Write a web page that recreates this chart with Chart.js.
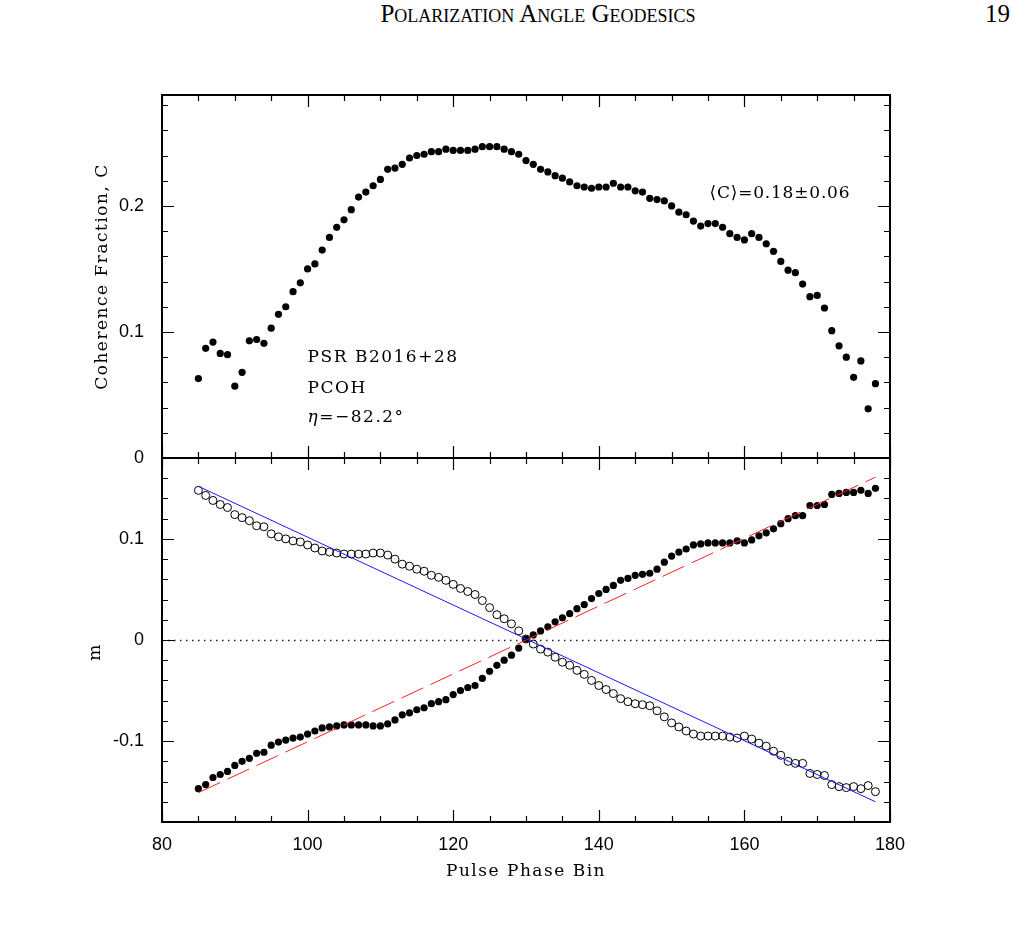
<!DOCTYPE html>
<html>
<head>
<meta charset="utf-8">
<title>Polarization Angle Geodesics</title>
<script src="https://cdn.jsdelivr.net/npm/chart.js@4.4.1/dist/chart.umd.min.js"></script>
<style>
  html, body { margin: 0; padding: 0; background: #fff; }
  #page { position: relative; width: 1015px; height: 936px; overflow: hidden; background: #fff; }
  .runhead { position: absolute; top: 1px; font-family: 'Liberation Serif', 'DejaVu Serif', serif; font-size: 25px; line-height: 25px; color: #000; white-space: nowrap; }
  #runtitle { left: 538px; transform: translateX(-50%); font-variant: small-caps; }
  #pageno { right: 5px; }
  canvas { position: absolute; left: 0; }
  #cohChart { top: 0; }
  #mChart { top: 440px; }
</style>
</head>
<body>
<div id="page">
  <div class="runhead" id="runtitle">Polarization Angle Geodesics</div>
  <div class="runhead" id="pageno">19</div>
  <canvas id="cohChart" width="1015" height="480"></canvas>
  <canvas id="mChart" width="1015" height="496"></canvas>
</div>
<script>
/* ============================================================
   PSR B2016+28 — coherence fraction C and m per pulse phase bin
   ============================================================ */

const bins = [85, 86, 87, 88, 89, 90, 91, 92, 93, 94, 95, 96, 97, 98, 99,
  100, 101, 102, 103, 104, 105, 106, 107, 108, 109, 110, 111, 112, 113, 114,
  115, 116, 117, 118, 119, 120, 121, 122, 123, 124, 125, 126, 127, 128, 129,
  130, 131, 132, 133, 134, 135, 136, 137, 138, 139, 140, 141, 142, 143, 144,
  145, 146, 147, 148, 149, 150, 151, 152, 153, 154, 155, 156, 157, 158, 159,
  160, 161, 162, 163, 164, 165, 166, 167, 168, 169, 170, 171, 172, 173, 174,
  175, 176, 177, 178];

const coherence = [0.063, 0.087, 0.092, 0.083, 0.082, 0.057, 0.068, 0.093, 0.094, 0.091, 0.103,
  0.114, 0.120, 0.132, 0.139, 0.150, 0.154, 0.165, 0.175, 0.183, 0.189, 0.197, 0.207, 0.211,
  0.216, 0.221, 0.229, 0.230, 0.233, 0.238, 0.240, 0.241, 0.243, 0.243, 0.245, 0.244, 0.244,
  0.244, 0.245, 0.247, 0.247, 0.247, 0.245, 0.243, 0.241, 0.236, 0.233, 0.229, 0.227, 0.224,
  0.222, 0.219, 0.216, 0.215, 0.214, 0.215, 0.215, 0.218, 0.215, 0.215, 0.212, 0.211, 0.206,
  0.205, 0.204, 0.200, 0.195, 0.193, 0.188, 0.184, 0.186, 0.186, 0.183, 0.178, 0.175, 0.173,
  0.178, 0.175, 0.170, 0.164, 0.156, 0.149, 0.147, 0.138, 0.128, 0.129, 0.119, 0.101, 0.089,
  0.080, 0.064, 0.077, 0.039, 0.059];

// open circles
const mOpen = [0.148, 0.143, 0.138, 0.134, 0.131, 0.124, 0.121, 0.118, 0.113, 0.112, 0.105,
  0.102, 0.100, 0.098, 0.097, 0.094, 0.091, 0.088, 0.087, 0.086, 0.085, 0.085, 0.085, 0.085,
  0.086, 0.086, 0.084, 0.080, 0.075, 0.073, 0.070, 0.068, 0.064, 0.062, 0.059, 0.055, 0.051,
  0.048, 0.045, 0.039, 0.032, 0.025, 0.021, 0.016, 0.009, 0.001, -0.004, -0.009, -0.012, -0.017,
  -0.022, -0.025, -0.030, -0.034, -0.040, -0.045, -0.049, -0.053, -0.058, -0.061, -0.063, -0.064,
  -0.065, -0.070, -0.076, -0.082, -0.086, -0.090, -0.093, -0.095, -0.095, -0.095, -0.095, -0.096,
  -0.097, -0.095, -0.098, -0.102, -0.105, -0.110, -0.114, -0.120, -0.122, -0.122, -0.132, -0.133,
  -0.134, -0.143, -0.145, -0.146, -0.145, -0.147, -0.144, -0.150];

// filled circles
const mFilled = [-0.147, -0.143, -0.136, -0.133, -0.130, -0.124, -0.120, -0.117, -0.112, -0.111,
  -0.104, -0.101, -0.099, -0.097, -0.096, -0.093, -0.090, -0.087, -0.086, -0.085, -0.084, -0.084,
  -0.084, -0.084, -0.085, -0.085, -0.083, -0.079, -0.074, -0.072, -0.069, -0.067, -0.063, -0.061,
  -0.059, -0.054, -0.050, -0.047, -0.045, -0.038, -0.031, -0.025, -0.020, -0.015, -0.008, 0.001,
  0.005, 0.009, 0.013, 0.018, 0.022, 0.026, 0.031, 0.035, 0.041, 0.046, 0.050, 0.054, 0.059,
  0.061, 0.064, 0.065, 0.066, 0.070, 0.077, 0.083, 0.087, 0.090, 0.094, 0.095, 0.096, 0.096,
  0.096, 0.096, 0.098, 0.096, 0.099, 0.103, 0.106, 0.110, 0.115, 0.120, 0.123, 0.123, 0.133,
  0.133, 0.134, 0.144, 0.145, 0.146, 0.146, 0.148, 0.145, 0.150];

// model curves
const fitBins = [85, 178];
const fitBlue = [0.152, -0.160];
const fitRed = [-0.151, 0.161];

const xTicks = [80, 100, 120, 140, 160, 180];
const cTicks = [0, 0.1, 0.2];
const mTicks = [-0.1, 0, 0.1];

const HERSHEY = "'DejaVu Serif', serif";
const TICK_FONT = { family: "'Liberation Sans', Arial, sans-serif", size: 18 };

function pts(xs, ys) {
  return xs.map((x, i) => ({ x, y: ys[i] }));
}

function setTicks(values) {
  return scale => { scale.ticks = values.map(v => ({ value: v })); };
}

// fixed axis box, no extra room for the end labels
function fixWidth(w) {
  return s => { s.width = w; s.paddingTop = 0; s.paddingBottom = 0; };
}

function fixHeight(h) {
  return s => { s.height = h; s.paddingLeft = 0; s.paddingRight = 0; };
}

const tickLabel = v => (v === 0 ? '0' : String(v));

/* ---------- frame, inward ticks and text ---------- */

const framePlugin = {
  id: 'frame',
  beforeDatasetsDraw(chart, args, o) {
    if (!o.zeroLine) return;
    const { ctx, chartArea: a, scales: { y } } = chart;
    const py = Math.round(y.getPixelForValue(0)) + 0.5;
    ctx.save();
    ctx.strokeStyle = '#222';
    ctx.lineWidth = 1.5;
    ctx.setLineDash([1.5, 4.5]);
    ctx.beginPath();
    ctx.moveTo(a.left, py);
    ctx.lineTo(a.right, py);
    ctx.stroke();
    ctx.restore();
  },
  afterDraw(chart, args, o) {
    const { ctx, chartArea: a, scales: { x, y } } = chart;
    ctx.save();
    ctx.strokeStyle = '#000';
    ctx.lineWidth = 1.2;
    ctx.beginPath();

    const nx = Math.round((x.max - x.min) / o.xMinor);
    for (let k = 0; k <= nx; k++) {
      const v = x.min + k * o.xMinor;
      const len = Math.abs(v % o.xMajor) < 1e-6 ? 12 : 6;
      const px = Math.round(x.getPixelForValue(v)) + 0.5;
      ctx.moveTo(px, a.bottom); ctx.lineTo(px, a.bottom - len);
      ctx.moveTo(px, a.top); ctx.lineTo(px, a.top + len);
    }
    const ny = Math.floor((y.max - y.min) / o.yMinor + 1e-6);
    for (let k = 0; k <= ny; k++) {
      const v = y.min + k * o.yMinor;
      const r = v / o.yMajor;
      const len = Math.abs(r - Math.round(r)) < 1e-6 ? 12 : 6;
      const py = Math.round(y.getPixelForValue(v)) + 0.5;
      ctx.moveTo(a.left, py); ctx.lineTo(a.left + len, py);
      ctx.moveTo(a.right, py); ctx.lineTo(a.right - len, py);
    }
    ctx.stroke();

    ctx.lineWidth = 2;
    ctx.strokeRect(a.left, a.top, a.right - a.left, a.bottom - a.top);

    ctx.fillStyle = '#000';
    ctx.font = '17px ' + HERSHEY;
    ctx.letterSpacing = '1.5px';
    ctx.textBaseline = 'middle';
    ctx.textAlign = 'left';

    (o.notes || []).forEach(n => {
      let px = x.getPixelForValue(n.x);
      const py = y.getPixelForValue(n.y);
      ctx.letterSpacing = (n.spacing || 1.5) + 'px';
      n.parts.forEach(p => {
        ctx.font = (p.italic ? 'italic ' : '') + '17px ' + HERSHEY;
        ctx.fillText(p.text, px, py);
        px += ctx.measureText(p.text).width;
      });
    });

    ctx.font = '17px ' + HERSHEY;
    ctx.letterSpacing = '1.5px';
    ctx.textBaseline = 'alphabetic';
    if (o.yTitle) {
      ctx.save();
      ctx.translate(a.left + o.yTitle.dx, (a.top + a.bottom) / 2 + o.yTitle.dy);
      ctx.rotate(-Math.PI / 2);
      ctx.textAlign = 'center';
      ctx.fillText(o.yTitle.text, 0, 0);
      ctx.restore();
    }
    if (o.xTitle) {
      ctx.textAlign = 'center';
      ctx.fillText(o.xTitle.text, (a.left + a.right) / 2, a.bottom + o.xTitle.dy);
    }
    ctx.restore();
  },
};

const baseOptions = (padding) => ({
  responsive: false,
  animation: false,
  layout: { padding },
});

/* ---------- top panel: coherence fraction ---------- */

new Chart(document.getElementById('cohChart'), {
  type: 'scatter',
  data: {
    datasets: [{
      data: pts(bins, coherence),
      pointRadius: 3.6,
      pointBackgroundColor: '#000',
      pointBorderWidth: 0,
    }],
  },
  options: {
    ...baseOptions({ top: 95, bottom: 22, left: 0, right: 125 }),
    scales: {
      x: { type: 'linear', min: 80, max: 180, display: false },
      y: {
        type: 'linear', min: 0, max: 0.288,
        afterBuildTicks: setTicks(cTicks),
        afterFit: fixWidth(162),
        grid: { display: false, drawTicks: false },
        border: { display: false },
        ticks: { font: TICK_FONT, color: '#000', padding: 18, callback: tickLabel },
      },
    },
    plugins: {
      legend: { display: false },
      tooltip: { enabled: false },
      frame: {
        xMinor: 5, xMajor: 20, yMinor: 0.02, yMajor: 0.1,
        yTitle: { text: 'Coherence Fraction, C', dx: -55, dy: 0 },
        notes: [
          { x: 100, y: 0.080, parts: [{ text: 'PSR B2016+28' }] },
          { x: 100, y: 0.055, parts: [{ text: 'PCOH' }] },
          { x: 100, y: 0.032, parts: [{ text: 'η', italic: true }, { text: '=−82.2°' }] },
          { x: 155.2, y: 0.210, spacing: 0.8, parts: [{ text: '\u27E8C\u27E9=0.18\u00B10.06' }] },
        ],
      },
    },
  },
  plugins: [framePlugin],
});

/* ---------- bottom panel: m ---------- */

new Chart(document.getElementById('mChart'), {
  type: 'scatter',
  data: {
    datasets: [
      {
        type: 'line',
        data: pts(fitBins, fitBlue),
        borderColor: '#1a1aff',
        borderWidth: 1,
        pointRadius: 0,
      },
      {
        type: 'line',
        data: pts(fitBins, fitRed),
        borderColor: '#ff2020',
        borderWidth: 1,
        borderDash: [24, 8],
        pointRadius: 0,
      },
      {
        data: pts(bins, mOpen),
        pointRadius: 4,
        pointBackgroundColor: 'rgba(255,255,255,0)',
        pointBorderColor: '#000',
        pointBorderWidth: 1,
      },
      {
        data: pts(bins, mFilled),
        pointRadius: 3.6,
        pointBackgroundColor: '#000',
        pointBorderWidth: 0,
      },
    ],
  },
  options: {
    ...baseOptions({ top: 18, bottom: 0, left: 0, right: 125 }),
    scales: {
      x: {
        type: 'linear', min: 80, max: 180,
        afterBuildTicks: setTicks(xTicks),
        afterFit: fixHeight(114),
        grid: { display: false, drawTicks: false },
        border: { display: false },
        ticks: { font: TICK_FONT, color: '#000', padding: 12, maxRotation: 0 },
      },
      y: {
        type: 'linear', min: -0.18, max: 0.18,
        afterBuildTicks: setTicks(mTicks),
        afterFit: fixWidth(162),
        grid: { display: false, drawTicks: false },
        border: { display: false },
        ticks: { font: TICK_FONT, color: '#000', padding: 18, callback: tickLabel },
      },
    },
    plugins: {
      legend: { display: false },
      tooltip: { enabled: false },
      frame: {
        xMinor: 5, xMajor: 20, yMinor: 0.02, yMajor: 0.1,
        zeroLine: true,
        yTitle: { text: 'm', dx: -62, dy: 12 },
        xTitle: { text: 'Pulse Phase Bin', dy: 54 },
      },
    },
  },
  plugins: [framePlugin],
});
</script>
</body>
</html>
